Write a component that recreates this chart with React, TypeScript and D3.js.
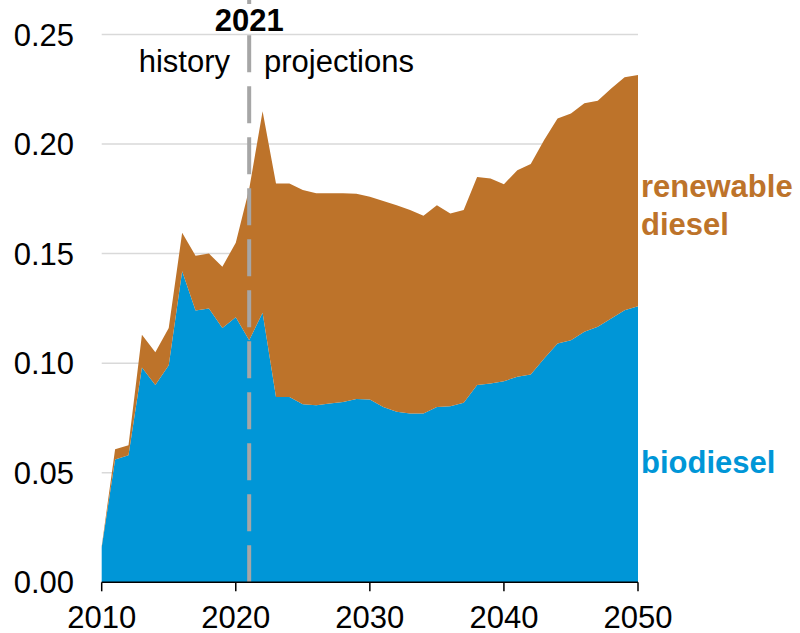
import { useEffect, useRef } from 'react';
import * as d3 from 'd3';

// years 2010..2050
const years = d3.range(2010, 2051);

// quadrillion-ish units
const biodiesel = [
  0.016, 0.056, 0.058, 0.098, 0.090, 0.099, 0.142, 0.124, 0.125, 0.116,
  0.121, 0.1105, 0.123, 0.0846, 0.0846, 0.0813, 0.0808, 0.0816, 0.0823, 0.0836,
  0.0834, 0.080, 0.0778, 0.077, 0.077, 0.080, 0.0804, 0.0819, 0.090, 0.0907,
  0.0918, 0.0938, 0.0948, 0.1021, 0.109, 0.1105, 0.1143, 0.1166, 0.1204, 0.1242,
  0.126,
];

const renewableDiesel = [
  0.0005, 0.0047, 0.0046, 0.015, 0.015, 0.017, 0.0175, 0.025, 0.025, 0.028,
  0.034, 0.069, 0.092, 0.0974, 0.0974, 0.0977, 0.0967, 0.0959, 0.0952, 0.0937,
  0.0926, 0.094, 0.0943, 0.0929, 0.0903, 0.0921, 0.0879, 0.088, 0.095, 0.0936,
  0.0899, 0.0943, 0.0961, 0.0997, 0.1027, 0.1035, 0.1043, 0.1032, 0.105, 0.1063,
  0.1055,
];

const seriesKeys = ['biodiesel', 'renewable'];
const seriesColors = ['#0096d7', '#bd732a'];
const yTicks = [0, 0.05, 0.1, 0.15, 0.2, 0.25];
const xTicks = [2010, 2020, 2030, 2040, 2050];
const dividerYear = 2021;

const Chart = ({ w, h }) => {
  const svgRef = useRef();

  useEffect(() => {
    const font = '"Liberation Sans", Arial, sans-serif';

    const rows = years.map((year, i) => ({
      year,
      biodiesel: biodiesel[i],
      renewable: renewableDiesel[i],
    }));

    const x = d3.scaleLinear().domain([2010, 2050]).range([101.7, 638]);
    const y = d3.scaleLinear().domain([0, 0.25]).range([582.3, 34.5]);

    const svg = d3.select(svgRef.current);
    svg.selectAll('*').remove();
    svg.attr('width', w).attr('height', h);

    // gridlines
    svg.append('g')
      .selectAll('line')
      .data(yTicks.filter(d => d > 0))
      .enter()
      .append('line')
      .attr('x1', x(2010))
      .attr('x2', x(2050))
      .attr('y1', d => y(d))
      .attr('y2', d => y(d))
      .attr('stroke', '#d9d9d9')
      .attr('stroke-width', 1.5);

    // stacked areas
    const stacked = d3.stack().keys(seriesKeys)(rows);
    const area = d3.area()
      .x(d => x(d.data.year))
      .y0(d => y(d[0]))
      .y1(d => y(d[1]));

    svg.append('g')
      .selectAll('path')
      .data(stacked)
      .enter()
      .append('path')
      .attr('d', area)
      .attr('fill', (d, i) => seriesColors[i]);

    // history / projections divider
    svg.append('line')
      .attr('x1', x(dividerYear))
      .attr('x2', x(dividerYear))
      .attr('y1', y(0))
      .attr('y2', 0)
      .attr('stroke', '#a6a6a6')
      .attr('stroke-width', 4)
      .attr('stroke-dasharray', '37 14');

    svg.append('rect')
      .attr('x', x(dividerYear) - 40)
      .attr('y', 4)
      .attr('width', 80)
      .attr('height', 29)
      .attr('fill', 'white');

    svg.append('text')
      .attr('x', x(dividerYear))
      .attr('y', 31)
      .attr('text-anchor', 'middle')
      .style('font-family', font)
      .style('font-size', '31px')
      .style('font-weight', 'bold')
      .text('2021');

    svg.append('text')
      .attr('x', 230)
      .attr('y', 72)
      .attr('text-anchor', 'end')
      .style('font-family', font)
      .style('font-size', '31px')
      .text('history');

    svg.append('text')
      .attr('x', 264)
      .attr('y', 72)
      .style('font-family', font)
      .style('font-size', '31px')
      .text('projections');

    // x axis
    svg.append('line')
      .attr('x1', x(2010))
      .attr('x2', x(2050))
      .attr('y1', y(0))
      .attr('y2', y(0))
      .attr('stroke', 'black')
      .attr('stroke-width', 1.5);

    const xt = svg.append('g')
      .selectAll('g')
      .data(xTicks)
      .enter()
      .append('g');
    xt.append('line')
      .attr('x1', d => x(d))
      .attr('x2', d => x(d))
      .attr('y1', y(0))
      .attr('y2', y(0) + 9)
      .attr('stroke', 'black')
      .attr('stroke-width', 1.5);
    xt.append('text')
      .attr('x', d => x(d))
      .attr('y', 628)
      .attr('text-anchor', 'middle')
      .style('font-family', font)
      .style('font-size', '31px')
      .text(d => d);

    // y labels
    svg.append('g')
      .selectAll('text')
      .data(yTicks)
      .enter()
      .append('text')
      .attr('x', 74)
      .attr('y', d => y(d) + 11)
      .attr('text-anchor', 'end')
      .style('font-family', font)
      .style('font-size', '31px')
      .text(d => d3.format('.2f')(d));

    // series labels
    svg.append('text')
      .attr('x', 641)
      .attr('y', 197)
      .style('font-family', font)
      .style('font-size', '31px')
      .style('font-weight', 'bold')
      .style('fill', seriesColors[1])
      .text('renewable');
    svg.append('text')
      .attr('x', 641)
      .attr('y', 235)
      .style('font-family', font)
      .style('font-size', '31px')
      .style('font-weight', 'bold')
      .style('fill', seriesColors[1])
      .text('diesel');
    svg.append('text')
      .attr('x', 641)
      .attr('y', 473)
      .style('font-family', font)
      .style('font-size', '31px')
      .style('font-weight', 'bold')
      .style('fill', seriesColors[0])
      .text('biodiesel');
  }, [w, h]);

  return (
    <svg ref={svgRef} style={{ position: 'absolute', left: 0, top: 0, display: 'block' }}></svg>
  );
};

export default function App() {
  return <Chart w={800} h={633} />;
}
